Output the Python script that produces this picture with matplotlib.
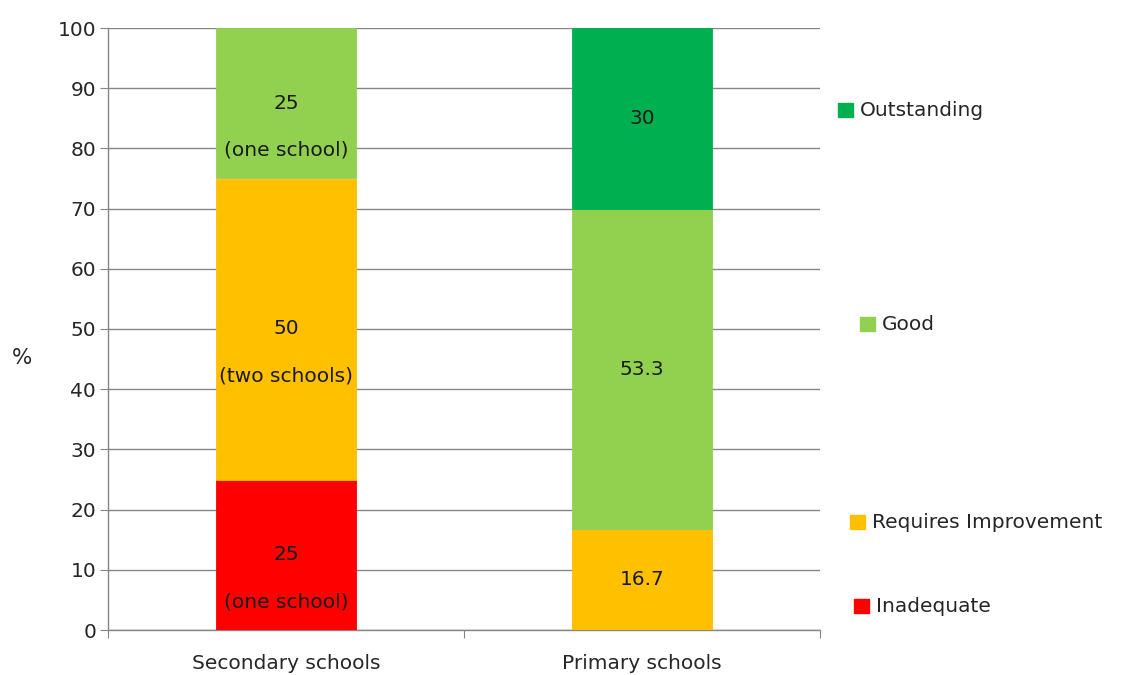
import matplotlib
matplotlib.use("Agg")
import matplotlib.pyplot as plt
import numpy as np

categories = ["Secondary schools", "Primary schools"]
series_names = ["Inadequate", "Requires Improvement", "Good", "Outstanding"]
inadequate = [25, 0]
requires_improvement = [50, 16.7]
good = [25, 53.3]
outstanding = [0, 30]
colors = ["#FF0000", "#FFC000", "#92D050", "#00B050"]
seg_labels = [
    ["25", "(one school)"], ["50", "(two schools)"], ["25", "(one school)"],
    ["16.7", None], ["53.3", None], ["30", None],
]
yticks = list(range(0, 101, 10))

plt.rcParams['font.family'] = ['DejaVu Sans']
FS = 14.5

fig = plt.figure(figsize=(11.24, 6.75), dpi=100)
W, H = 1124, 675
ax = fig.add_axes([108 / W, 1 - 630 / H, (820 - 108) / W, (630 - 28) / H])

x = np.arange(len(categories))
width = 0.393
bottom = np.zeros(len(categories))
all_series = [inadequate, requires_improvement, good, outstanding]
for vals, col, name in zip(all_series, colors, series_names):
    vals = np.array(vals, dtype=float)
    lws = [0.6 if v > 0 else 0 for v in vals]
    ax.bar(x, vals, width, bottom=bottom, color=col, edgecolor=col, linewidth=lws,
           label=name, zorder=3)
    for i in range(len(categories)):
        if vals[i] > 0:
            cy = bottom[i] + vals[i] / 2
            if i == 0:
                lab = {"Inadequate": seg_labels[0], "Requires Improvement": seg_labels[1], "Good": seg_labels[2]}[name]
            else:
                lab = {"Requires Improvement": seg_labels[3], "Good": seg_labels[4], "Outstanding": seg_labels[5]}[name]
            ax.text(x[i], cy, lab[0], ha="center", va="center", fontsize=FS, color="#1a1a1a", zorder=4)
            if lab[1]:
                ax.annotate(lab[1], (x[i], cy), xytext=(0, -34), textcoords="offset points",
                            ha="center", va="center", fontsize=FS, color="#1a1a1a", zorder=4)
    bottom += vals

ax.set_xlim(-0.5, 1.5)
ax.set_ylim(0, 100)
ax.set_yticks(yticks)
ax.set_yticklabels([str(t) for t in yticks], fontsize=FS, color="#262626")
ax.yaxis.grid(True, color="#868686", linewidth=1, zorder=0)
ax.set_axisbelow(True)
ax.set_xticks([-0.5, 0.5, 1.5])
ax.set_xticklabels([])
ax.set_xticks(x, minor=True)
ax.set_xticklabels(categories, minor=True, fontsize=FS, color="#262626")
ax.tick_params(axis="x", which="minor", length=0, pad=17)
ax.tick_params(axis="x", which="major", length=6, color="#868686", direction="out")
ax.tick_params(axis="y", length=5.5, color="#868686", direction="out", pad=3)
for s in ["top", "right"]:
    ax.spines[s].set_visible(False)
for s in ["left", "bottom"]:
    ax.spines[s].set_color("#868686")
    ax.spines[s].set_linewidth(1)

fig.text(22 / W, 1 - 358 / H, "%", fontsize=FS + 1, ha="center", va="center", color="#262626")

# legend entries (Excel-style scattered positions)
leg = [("Outstanding", 3, 838, 110), ("Good", 2, 860, 324),
       ("Requires Improvement", 1, 850, 522), ("Inadequate", 0, 854, 606)]
for name, ci, px, py in leg:
    fig.patches.append(plt.Rectangle((px / W, 1 - (py + 7) / H), 15 / W, 14 / H,
                                     transform=fig.transFigure, color=colors[ci]))
    fig.text((px + 22) / W, 1 - py / H, name, fontsize=FS, ha="left", va="center", color="#262626")

fig.savefig("out.png", dpi=100)
